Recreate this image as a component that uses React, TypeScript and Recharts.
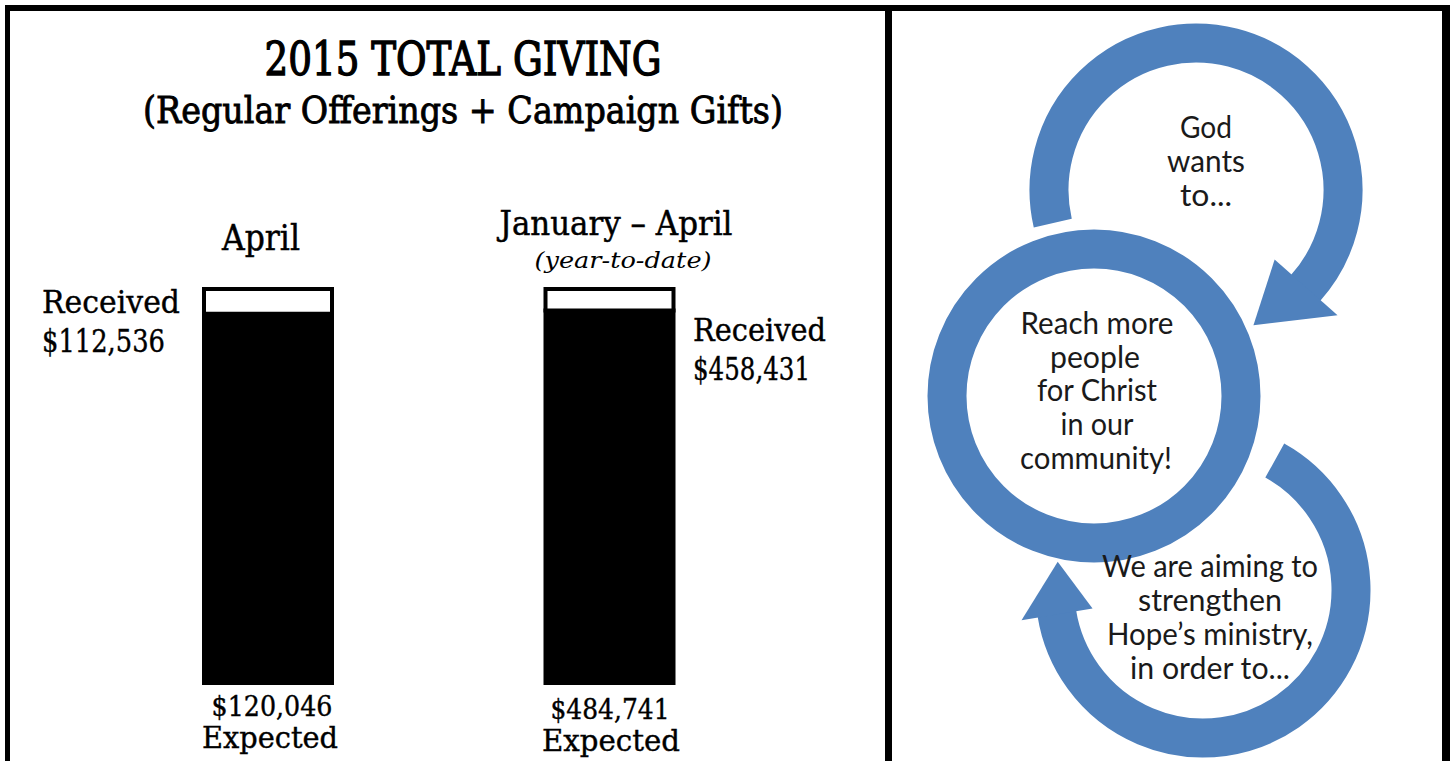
import React from 'react';
import { BarChart, Bar, XAxis, YAxis } from 'recharts';

// ---- data ----
const periods = ['April', 'January – April'];
const periodNotes = ['', '(year-to-date)'];
const received = [112536, 458431];
const expected = [120046, 484741];

const data = periods.map((name, i) => ({
  name,
  received: received[i],
  remaining: expected[i] - received[i],
}));

const fmt = (v: number) => '$' + v.toLocaleString('en-US');

const SERIF = "'DejaVu Serif', 'Liberation Serif', serif";
const SANS = "Lato, 'Open Sans', sans-serif";
const BLUE = '#4F81BD';

type TProps = {
  x: number; y: number; w: number; size: number; anchor?: 'start' | 'middle' | 'end';
  italic?: boolean; children: React.ReactNode; family?: string; fill?: string; bold?: number;
};
const T = ({ x, y, w, size, anchor = 'middle', italic, children, family = SERIF, fill = '#000', bold = 0 }: TProps) => (
  <text
    x={x}
    y={y}
    fontSize={size}
    fontFamily={family}
    fontStyle={italic ? 'italic' : 'normal'}
    textAnchor={anchor}
    textLength={w}
    lengthAdjust="spacingAndGlyphs"
    fill={fill}
    stroke={bold ? fill : 'none'}
    strokeWidth={bold}
  >
    {children}
  </text>
);

const pt = (cx: number, cy: number, r: number, deg: number) => {
  const a = (deg * Math.PI) / 180;
  return [cx + r * Math.cos(a), cy + r * Math.sin(a)];
};

const arc = (cx: number, cy: number, r: number, a0: number, a1: number) => {
  const [x0, y0] = pt(cx, cy, r, a0);
  const [x1, y1] = pt(cx, cy, r, a1);
  const large = a1 - a0 > 180 ? 1 : 0;
  return `M${x0},${y0} A${r},${r} 0 ${large} 1 ${x1},${y1}`;
};

const head = (cx: number, cy: number, r: number, a: number, hw: number, tipDeg: number) => {
  const [ix, iy] = pt(cx, cy, r - hw, a - 0.5);
  const [ox, oy] = pt(cx, cy, r + hw, a - 0.5);
  const [tx, ty] = pt(cx, cy, r, a + tipDeg);
  return `M${ix},${iy} L${ox},${oy} L${tx},${ty} Z`;
};

const Diagram = () => {
  const top = { cx: 1196, cy: 190, r: 147 };
  const mid = { cx: 1094, cy: 396, r: 147 };
  const bot = { cx: 1203, cy: 590, r: 148 };
  const bw = 39;
  const c = '#1a1a1a';
  return (
    <g>
      <path d={arc(top.cx, top.cy, top.r, 167, 402)} stroke={BLUE} strokeWidth={bw} fill="none" />
      <path d={head(top.cx, top.cy, top.r, 402, 42, 25)} fill={BLUE} />
      <circle cx={mid.cx} cy={mid.cy} r={mid.r} stroke={BLUE} strokeWidth={bw} fill="none" />
      <path d={arc(bot.cx, bot.cy, bot.r, -61, 171)} stroke={BLUE} strokeWidth={bw} fill="none" />
      <path d={head(bot.cx, bot.cy, bot.r, 171, 36, 20)} fill={BLUE} />

      <T x={1206} y={138} w={52} size={30} family={SANS} fill={c}>God</T>
      <T x={1206} y={172} w={78} size={30} family={SANS} fill={c}>wants</T>
      <T x={1206} y={206} w={52} size={30} family={SANS} fill={c}>to...</T>

      <T x={1097} y={334} w={153} size={30} family={SANS} fill={c}>Reach more</T>
      <T x={1095} y={368} w={90} size={30} family={SANS} fill={c}>people</T>
      <T x={1097} y={401} w={120} size={30} family={SANS} fill={c}>for Christ</T>
      <T x={1097} y={435} w={73} size={30} family={SANS} fill={c}>in our</T>
      <T x={1096} y={469} w={152} size={30} family={SANS} fill={c}>community!</T>

      <T x={1210} y={577} w={216} size={30} family={SANS} fill={c}>We are aiming to</T>
      <T x={1210} y={611} w={144} size={30} family={SANS} fill={c}>strengthen</T>
      <T x={1210} y={645} w={206} size={30} family={SANS} fill={c}>Hope’s ministry,</T>
      <T x={1210} y={679} w={160} size={30} family={SANS} fill={c}>in order to...</T>
    </g>
  );
};

export default function App() {
  return (
    <div style={{ position: 'absolute', left: 0, top: 0, width: 1450, height: 761, background: '#fff', overflow: 'hidden' }}>
      <div style={{ position: 'absolute', left: 0, top: 0 }}>
        <BarChart
          width={880}
          height={761}
          data={data}
          stackOffset="expand"
          margin={{ top: 289, right: 100, bottom: 78, left: 97 }}
        >
          <XAxis dataKey="name" hide />
          <YAxis hide domain={[0, 1]} />
          <Bar dataKey="received" stackId="g" fill="#000" stroke="#000" strokeWidth={4} barSize={128} isAnimationActive={false} />
          <Bar dataKey="remaining" stackId="g" fill="#fff" stroke="#000" strokeWidth={4} barSize={128} isAnimationActive={false} />
        </BarChart>
      </div>
      <svg width={1450} height={761} style={{ position: 'absolute', left: 0, top: 0, pointerEvents: 'none' }}>
        {/* frames */}
        <rect x={5} y={5} width={1445} height={6} fill="#000" />
        <rect x={5} y={5} width={5} height={756} fill="#000" />
        <rect x={885} y={5} width={7} height={756} fill="#000" />
        <rect x={1442} y={5} width={8} height={756} fill="#000" />

        {/* titles */}
        <T x={463} y={75} w={397} size={46} bold={1.4}>2015 TOTAL GIVING</T>
        <T x={463} y={123} w={640} size={37} bold={0.9}>(Regular Offerings + Campaign Gifts)</T>

        {/* period headings */}
        <T x={261} y={250} w={78} size={35} bold={0.5}>{periods[0]}</T>
        <T x={616} y={235} w={233} size={34} bold={0.5}>{periods[1]}</T>
        <T x={623} y={268} w={177} size={23} italic>{periodNotes[1]}</T>

        {/* received labels */}
        <T x={42} y={313} w={138} size={31} anchor="start" bold={0.4}>Received</T>
        <T x={42} y={352} w={123} size={31} anchor="start" bold={0.4}>{fmt(received[0])}</T>
        <T x={693} y={341} w={133} size={31} anchor="start" bold={0.4}>Received</T>
        <T x={693} y={380} w={117} size={31} anchor="start" bold={0.4}>{fmt(received[1])}</T>

        {/* expected labels */}
        <T x={272} y={716} w={121} size={28} bold={0.4}>{fmt(expected[0])}</T>
        <T x={270} y={748} w={136} size={30} bold={0.4}>Expected</T>
        <T x={610} y={719} w={119} size={28} bold={0.4}>{fmt(expected[1])}</T>
        <T x={611} y={751} w={138} size={30} bold={0.4}>Expected</T>

        <Diagram />
      </svg>
    </div>
  );
}
